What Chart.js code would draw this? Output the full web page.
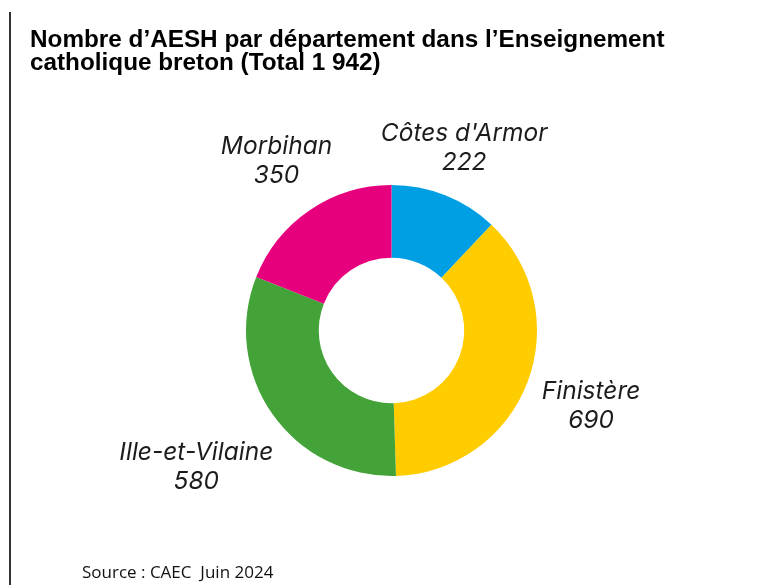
<!DOCTYPE html>
<html lang="fr">
<head>
<meta charset="utf-8">
<script src="https://cdn.jsdelivr.net/npm/chart.js@4"></script>
<style>
  html, body { margin: 0; padding: 0; background: #fff; }
  #wrap { position: relative; width: 780px; height: 585px; overflow: hidden; }
  #edge { position: absolute; left: 9px; top: 12px; width: 2px; bottom: 0; background: #333; }
  #title {
    position: absolute; left: 30px; top: 28px; margin: 0;
    font-family: "Liberation Sans", Arial, sans-serif; font-weight: bold;
    font-size: 24.3px; line-height: 22.5px; color: #000; white-space: nowrap;
  }
  #source {
    position: absolute; left: 82px; top: 560px;
    font-family: "Open Sans", sans-serif; font-size: 17px; color: #111; white-space: nowrap;
  }
  canvas { position: absolute; left: 0; top: 0; }
</style>
</head>
<body>
<div id="wrap">
  <canvas id="donut" width="780" height="585"></canvas>
  <div id="edge"></div>
  <h1 id="title">Nombre d’AESH par département dans l’Enseignement<br>catholique breton (Total 1 942)</h1>
  <div id="source">Source : CAEC&nbsp; Juin 2024</div>
</div>
<script>
// ===== DATA =====
const departements = ['Côtes d\'Armor', 'Finistère', 'Ille-et-Vilaine', 'Morbihan'];
const effectifs = [222, 690, 580, 350];
const couleurs = ['#009fe3', '#ffcc00', '#43a338', '#e6007e'];

// distance (px) between the outer edge of the ring and the middle of each label
const labelGap = [51, 68, 93, 59];

/**
 * Draw "name / value" labels outside each slice, along the slice's mid angle.
 */
const outerLabels = {
  id: 'outerLabels',
  afterDatasetsDraw(chart) {
    const { ctx } = chart;
    const meta = chart.getDatasetMeta(0);
    ctx.save();
    ctx.font = 'italic 24.5px Inter, "Noto Sans", sans-serif';
    ctx.fillStyle = '#1c1c1c';
    ctx.textAlign = 'center';
    ctx.textBaseline = 'middle';
    meta.data.forEach((arc, i) => {
      const p = arc.getProps(['x', 'y', 'startAngle', 'endAngle', 'outerRadius'], true);
      const mid = (p.startAngle + p.endAngle) / 2;
      const r = p.outerRadius + labelGap[i];
      const cx = p.x + Math.cos(mid) * r;
      const cy = p.y + Math.sin(mid) * r;
      ctx.fillText(chart.data.labels[i], cx, cy - 14.5);
      ctx.fillText(String(chart.data.datasets[0].data[i]), cx, cy + 14.5);
    });
    ctx.restore();
  }
};

new Chart(document.getElementById('donut'), {
  type: 'doughnut',
  data: {
    labels: departements,
    datasets: [{
      data: effectifs,
      backgroundColor: couleurs,
      borderWidth: 0
    }]
  },
  options: {
    responsive: false,
    animation: false,
    cutout: '50%',
    layout: { padding: { top: 185, bottom: 109, left: 100, right: 97 } },
    plugins: {
      legend: { display: false },
      tooltip: { enabled: false }
    }
  },
  plugins: [outerLabels]
});
</script>
</body>
</html>
